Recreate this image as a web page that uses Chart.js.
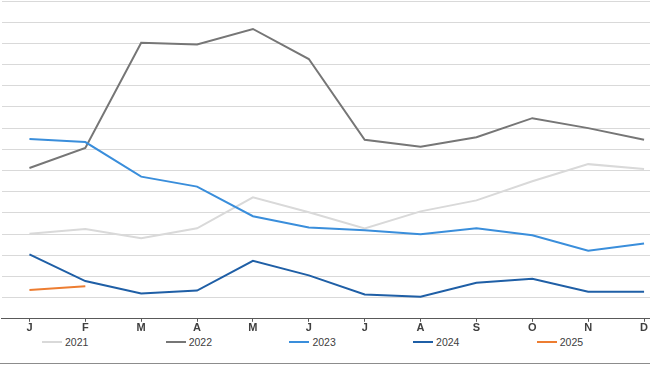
<!DOCTYPE html>
<html lang="en">
<head>
    <meta charset="UTF-8">
    <title>Monthly Comparison 2021-2025</title>
    <script src="https://cdn.jsdelivr.net/npm/chart.js"></script>
    <style>
        html, body {
            margin: 0;
            padding: 0;
            background: #fff;
        }
        #frame {
            position: relative;
            width: 650px;
            height: 365px;
            overflow: hidden;
            font-family: "Liberation Sans", Arial, sans-serif;
        }
        #chartBox {
            position: absolute;
            left: 0;
            top: 0;
        }
        #legend {
            position: absolute;
            left: 42px;
            top: 336px;
            display: flex;
        }
        .item {
            width: 123.7px;
            display: flex;
            align-items: center;
            font-size: 10.5px;
            color: #404040;
        }
        .swatch {
            width: 20px;
            height: 2px;
            margin-right: 3px;
        }
        #bottomLine {
            position: absolute;
            left: 0;
            top: 363px;
            width: 650px;
            height: 1px;
            background: #8c8c8c;
        }
    </style>
</head>
<body>
    <div id="frame">
        <div id="chartBox">
            <canvas id="myChart" width="672" height="335"></canvas>
        </div>
        <div id="legend"></div>
        <div id="bottomLine"></div>
    </div>

    <script>
        // month initials on the x axis
        var months = ['J', 'F', 'M', 'A', 'M', 'J', 'J', 'A', 'S', 'O', 'N', 'D'];

        // series (no axis units shown)
        var y2021 = [4.02, 4.24, 3.80, 4.27, 5.73, 5.03, 4.26, 5.07, 5.59, 6.49, 7.30, 7.07];
        var y2022 = [7.12, 8.06, 13.03, 12.95, 13.68, 12.26, 8.45, 8.12, 8.57, 9.47, 9.00, 8.45];
        var y2023 = [8.49, 8.34, 6.71, 6.24, 4.84, 4.31, 4.18, 3.99, 4.27, 3.94, 3.21, 3.55];
        var y2024 = [3.04, 1.78, 1.19, 1.33, 2.74, 2.05, 1.15, 1.04, 1.70, 1.89, 1.28, 1.28];
        var y2025 = [1.36, 1.54];

        var seriesNames = ['2021', '2022', '2023', '2024', '2025'];
        var seriesColors = ['#d9d9d9', '#767676', '#3a8edb', '#1f5fa6', '#ed7d31'];
        var seriesData = [y2021, y2022, y2023, y2024, y2025];

        var datasets = seriesNames.map(function (name, i) {
            return {
                label: name,
                data: seriesData[i],
                borderColor: seriesColors[i],
                backgroundColor: seriesColors[i],
                borderWidth: 2,
                pointRadius: 0,
                tension: 0,
                fill: false,
                order: seriesNames.length - i // later years drawn on top
            };
        });

        var ctx = document.getElementById('myChart').getContext('2d');
        var myChart = new Chart(ctx, {
            type: 'line',
            data: {
                labels: months,
                datasets: datasets
            },
            options: {
                responsive: false,
                animation: false,
                layout: {
                    padding: { left: 1.5, right: 0, top: 1, bottom: 0 }
                },
                plugins: {
                    legend: { display: false },
                    tooltip: { enabled: false }
                },
                scales: {
                    x: {
                        offset: true,
                        grid: {
                            drawOnChartArea: false,
                            drawTicks: true,
                            tickLength: 3,
                            tickColor: '#595959'
                        },
                        border: { color: '#595959', width: 1 },
                        ticks: {
                            padding: 0,
                            color: '#404040',
                            font: { family: '"Liberation Sans", Arial, sans-serif', size: 11, weight: 'bold' },
                            maxRotation: 0,
                            autoSkip: false
                        }
                    },
                    y: {
                        min: 0,
                        max: 15,
                        grid: {
                            color: '#d9d9d9',
                            lineWidth: 1,
                            drawTicks: false
                        },
                        border: { display: false },
                        ticks: { display: false, stepSize: 1 }
                    }
                }
            }
        });

        // legend below the axis
        var legendEl = document.getElementById('legend');
        seriesNames.forEach(function (name, i) {
            var item = document.createElement('div');
            item.className = 'item';
            var sw = document.createElement('span');
            sw.className = 'swatch';
            sw.style.background = seriesColors[i];
            var txt = document.createElement('span');
            txt.textContent = name;
            item.appendChild(sw);
            item.appendChild(txt);
            legendEl.appendChild(item);
        });
    </script>
</body>
</html>
